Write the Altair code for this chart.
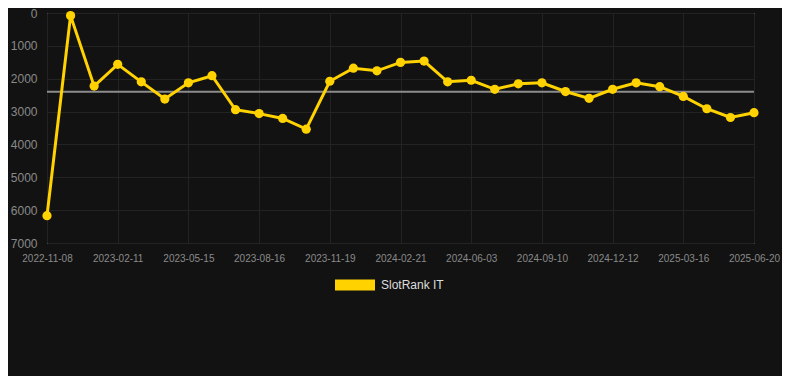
import altair as alt
import pandas as pd

# ---- data ----
series_name = "SlotRank IT"
ranks = [6170, 80, 2225, 1562, 2095, 2618, 2124, 1908, 2944, 3062, 3210, 3535,
         2077, 1680, 1760, 1503, 1464, 2095, 2047, 2322, 2154, 2124, 2390, 2598,
         2322, 2124, 2243, 2538, 2914, 3180, 3033]
tick_labels = ["2022-11-08", "2023-02-11", "2023-05-15", "2023-08-16", "2023-11-19",
               "2024-02-21", "2024-06-03", "2024-09-10", "2024-12-12", "2025-03-16",
               "2025-06-20"]
average_rank = 2400
y_ticks = [0, 1000, 2000, 3000, 4000, 5000, 6000, 7000]

GOLD = "#FFD200"
BG = "#121212"
GRID = "#232323"
LABEL = "#8a8a8a"
FONT = "Liberation Sans"

df = pd.DataFrame({
    "idx": list(range(len(ranks))),
    "rank": ranks,
    "series": [series_name] * len(ranks),
})
avg_df = pd.DataFrame({"start": [0], "end": [len(ranks) - 1], "avg": [average_rank]})

tick_positions = [i * 3 for i in range(len(tick_labels))]
label_array = "[" + ",".join("'" + t + "'" for t in tick_labels) + "]"

x_scale = alt.Scale(domain=[0, len(ranks) - 1], nice=False, zero=False)
y_scale = alt.Scale(domain=[0, 7000], reverse=True, nice=False)

x_axis = alt.Axis(values=tick_positions, labelExpr=label_array + "[round(datum.value/3)]",
                  title=None, domain=False, ticks=False, grid=True, gridColor=GRID,
                  labelColor=LABEL, labelFontSize=10, labelPadding=10, labelFont=FONT,
                  labelOverlap=False, labelFlush=False)
y_axis = alt.Axis(values=y_ticks, format="d", title=None, domain=False, ticks=False,
                  grid=True, gridColor=GRID, labelColor=LABEL, labelFontSize=12,
                  labelPadding=10, labelFont=FONT, labelOverlap=False, labelFlush=False)

base = alt.Chart(df)

line = base.mark_line(strokeWidth=3, color=GOLD).encode(
    x=alt.X("idx:Q", scale=x_scale, axis=x_axis),
    y=alt.Y("rank:Q", scale=y_scale, axis=y_axis),
)

avg_rule = alt.Chart(avg_df).mark_rule(color="#8c8c8c", strokeWidth=2).encode(
    x=alt.X("start:Q", scale=x_scale, axis=x_axis),
    x2="end:Q",
    y=alt.Y("avg:Q", scale=y_scale, axis=y_axis),
)

points = base.mark_point(filled=True, size=85, opacity=1).encode(
    x=alt.X("idx:Q", scale=x_scale, axis=x_axis),
    y=alt.Y("rank:Q", scale=y_scale, axis=y_axis),
    color=alt.Color("series:N", scale=alt.Scale(range=[GOLD]),
                    legend=alt.Legend(
                        title=None, orient="none", legendX=288, legendY=252,
                        symbolType="M-1,-0.275L1,-0.275L1,0.275L-1,0.275Z",
                        symbolSize=1600, symbolStrokeWidth=0, symbolFillColor=GOLD,
                        labelColor="#dddddd", labelFontSize=12, labelFont=FONT,
                        labelOffset=6)),
)

chart = (avg_rule + line + points).properties(
    width=707, height=230,
    background=BG,
    padding={"left": 39, "top": 5, "right": 28, "bottom": 133},
    autosize=alt.AutoSizeParams(type="none"),
).configure_view(stroke=None).configure_axis(
    domain=False, ticks=False, labelOverlap=False, labelFlush=False
).configure(font=FONT)

chart.save("out.html", embed_options={"renderer": "svg", "actions": False})
